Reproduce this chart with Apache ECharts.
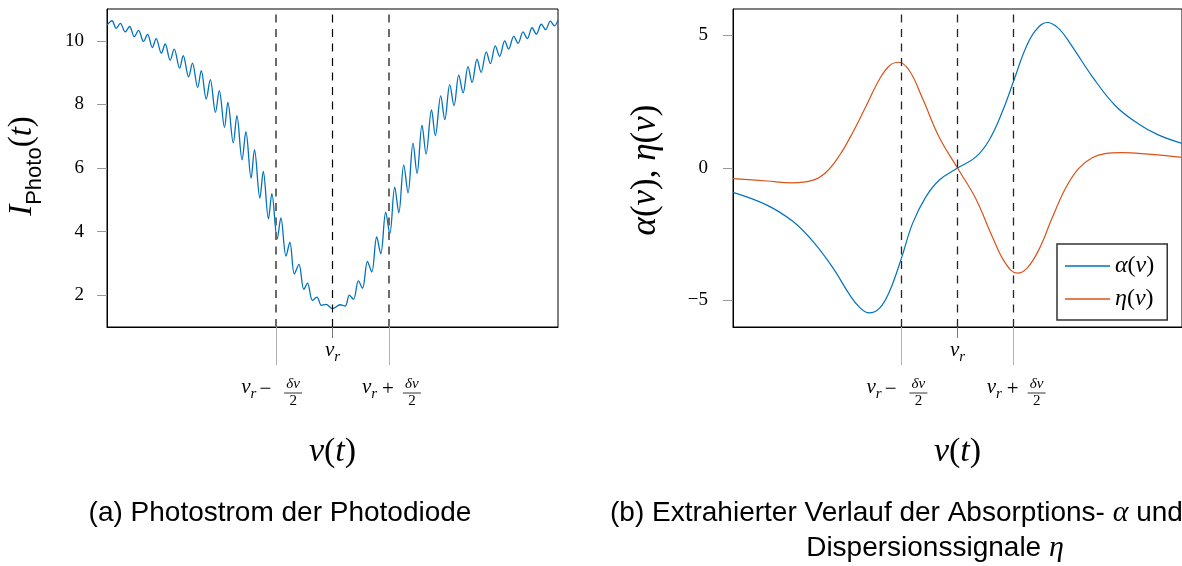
<!DOCTYPE html>
<html><head><meta charset="utf-8">
<script src="https://cdn.jsdelivr.net/npm/echarts@6/dist/echarts.min.js"></script>
<style>html,body{margin:0;padding:0;background:#fff}#c{width:1182px;height:566px}</style>
</head><body><div id="c"></div>
<script>
// ---- data ----
const photoX = [-1.000,-0.978,-0.959,-0.941,-0.919,-0.900,-0.879,-0.860,-0.838,-0.820,-0.799,-0.782,-0.759,-0.742,-0.720,-0.702,-0.678,-0.662,-0.638,-0.621,-0.598,-0.582,-0.560,-0.542,-0.519,-0.502,-0.479,-0.464,-0.440,-0.424,-0.401,-0.384,-0.361,-0.346,-0.322,-0.307,-0.284,-0.269,-0.245,-0.229,-0.206,-0.189,-0.169,-0.149,-0.127,-0.111,-0.089,-0.069,-0.049,-0.029,0.000,0.034,0.056,0.075,0.093,0.115,0.133,0.155,0.174,0.196,0.214,0.236,0.254,0.276,0.294,0.316,0.335,0.357,0.375,0.397,0.415,0.439,0.456,0.480,0.498,0.520,0.539,0.560,0.579,0.601,0.619,0.641,0.659,0.682,0.700,0.722,0.741,0.764,0.781,0.804,0.823,0.845,0.864,0.885,0.904,0.926,0.945,0.966,0.984,1.000];
const photoY = [10.49,10.63,10.39,10.55,10.28,10.45,10.13,10.33,9.98,10.20,9.79,10.07,9.61,9.90,9.39,9.74,9.14,9.53,8.87,9.30,8.53,9.06,8.17,8.78,7.75,8.43,7.28,8.06,6.79,7.65,6.26,7.14,5.68,6.58,5.05,5.89,4.40,5.19,3.77,4.43,3.23,3.67,2.67,2.97,2.18,2.38,1.84,1.94,1.68,1.71,1.58,1.70,1.66,2.00,1.87,2.45,2.22,3.06,2.73,3.83,3.30,4.61,3.93,5.40,4.59,6.10,5.22,6.78,5.83,7.35,6.44,7.83,7.02,8.27,7.52,8.62,7.96,8.92,8.36,9.19,8.69,9.42,9.01,9.65,9.28,9.84,9.51,10.00,9.74,10.14,9.92,10.28,10.07,10.41,10.21,10.52,10.35,10.62,10.47,10.65];

const alphaX = [-1.000,-0.849,-0.731,-0.643,-0.554,-0.480,-0.436,-0.394,-0.347,-0.303,-0.250,-0.200,-0.141,-0.082,0.000,0.081,0.140,0.199,0.252,0.302,0.347,0.398,0.450,0.509,0.598,0.702,0.805,0.894,1.000];
const alphaY = [-0.92,-1.40,-2.03,-2.78,-3.78,-4.79,-5.26,-5.47,-5.29,-4.66,-3.41,-2.09,-1.09,-0.46,0.00,0.41,1.04,2.11,3.33,4.49,5.18,5.49,5.27,4.61,3.48,2.36,1.67,1.25,0.93];

const etaX = [-1.000,-0.849,-0.738,-0.643,-0.584,-0.525,-0.466,-0.406,-0.347,-0.303,-0.263,-0.214,-0.155,-0.082,0.000,0.081,0.155,0.214,0.266,0.310,0.362,0.421,0.480,0.539,0.598,0.657,0.731,0.849,1.000];
const etaY = [-0.40,-0.49,-0.56,-0.46,-0.15,0.48,1.35,2.36,3.36,3.86,3.99,3.67,2.61,1.17,0.00,-1.15,-2.59,-3.60,-3.97,-3.78,-3.09,-1.90,-0.78,-0.02,0.38,0.54,0.58,0.52,0.40];

const markerValues = [-0.25, 0, 0.25];
const sideMarkers = [-0.25, 0.25];
const centerMarkers = [0];
const leftYTicks = [2, 4, 6, 8, 10];
const rightYTicks = [-5, 0, 5];
const seriesNames = ['α(ν)', 'η(ν)'];

// ---- chart ----
const SERIF = 'Liberation Serif';
const SANS = 'Liberation Sans';
const BLUE = '#0072BD', RED = '#D95319';
const pairs = (xs, ys) => xs.map((x, i) => [x, ys[i]]);

const chart = echarts.init(document.getElementById('c'), null, {renderer: 'canvas'});

function xMain(gi) {
  return {
    type: 'value', gridIndex: gi, min: -1, max: 1, position: 'bottom',
    axisLine: {show: true, onZero: false, lineStyle: {color: '#000', width: 1}},
    axisTick: {show: true, customValues: sideMarkers, length: 38, lineStyle: {color: '#b0b0b0', width: 1}},
    axisLabel: {show: false}, splitLine: {show: false}
  };
}
function xCenter(gi) {
  return {
    type: 'value', gridIndex: gi, min: -1, max: 1, position: 'bottom', offset: 0,
    axisLine: {show: false, onZero: false},
    axisTick: {show: true, customValues: centerMarkers, length: 11, lineStyle: {color: '#777', width: 1}},
    axisLabel: {show: false}, splitLine: {show: false}
  };
}
function yAxis(gi, min, max, ticks, margin) {
  return {
    type: 'value', gridIndex: gi, min: min, max: max, position: 'left',
    axisLine: {show: true, onZero: false, lineStyle: {color: '#000', width: 1}},
    axisTick: {show: true, customValues: ticks, length: 10, lineStyle: {color: '#999', width: 1}},
    axisLabel: {show: true, customValues: ticks, margin: margin, fontFamily: SERIF, fontSize: 19, color: '#000',
      formatter: v => String(v).replace('-', '\u2212')},
    splitLine: {show: false}
  };
}
function dashLines(colorOuter, widthOuter, colorCenter, widthCenter) {
  return {
    silent: true, symbol: 'none', animation: false,
    label: {show: false},
    data: markerValues.map(v => ({
      xAxis: v,
      lineStyle: {type: [8, 6.5], color: v === 0 ? colorCenter : colorOuter, width: v === 0 ? widthCenter : widthOuter}
    }))
  };
}

const option = {
  animation: false,
  backgroundColor: '#fff',
  grid: [
    {left: 107, top: 9, width: 451, height: 318, show: true, borderColor: '#000', borderWidth: 1, containLabel: false},
    {left: 733, top: 9, width: 452, height: 318, show: true, borderColor: '#000', borderWidth: 1, containLabel: false}
  ],
  xAxis: [xMain(0), xCenter(0), xMain(1), xCenter(1)],
  yAxis: [yAxis(0, 1, 11, leftYTicks, 23), yAxis(1, -6, 6, rightYTicks, 25)],
  legend: {
    show: true, orient: 'vertical', left: 1057, top: 244,
    data: seriesNames,
    icon: 'rect', itemWidth: 45, itemHeight: 1.6, itemGap: 9,
    padding: [10, 13, 9, 8],
    borderColor: '#333', borderWidth: 1.5, backgroundColor: '#fff',
    textStyle: {fontFamily: SERIF, fontSize: 24, color: '#000', lineHeight: 23,
      rich: {i: {fontFamily: SERIF, fontStyle: 'italic', fontSize: 24, color: '#000', lineHeight: 23},
             n: {fontFamily: SERIF, fontSize: 24, color: '#000', lineHeight: 23}}},
    formatter: name => name.split('').map(ch => /[αην]/.test(ch) ? '{i|' + ch + '}' : '{n|' + ch + '}').join('')
  },
  series: [
    {
      name: 'photo', type: 'line', xAxisIndex: 0, yAxisIndex: 0,
      data: pairs(photoX, photoY), showSymbol: false, smooth: 0.35,
      lineStyle: {color: BLUE, width: 1.3}, itemStyle: {color: BLUE},
      markLine: dashLines('#6b6b6b', 2, '#000', 1.2), z: 3
    },
    {
      name: seriesNames[0], type: 'line', xAxisIndex: 2, yAxisIndex: 1,
      data: pairs(alphaX, alphaY), showSymbol: false, smooth: 0.4,
      lineStyle: {color: BLUE, width: 1.2}, itemStyle: {color: BLUE},
      markLine: dashLines('#262626', 1.3, '#262626', 1.3), z: 3
    },
    {
      name: seriesNames[1], type: 'line', xAxisIndex: 2, yAxisIndex: 1,
      data: pairs(etaX, etaY), showSymbol: false, smooth: 0.4,
      lineStyle: {color: RED, width: 1.2}, itemStyle: {color: RED}, z: 3
    }
  ]
};
chart.setOption(option);

// ---- text annotations (positions derived from the axes) ----
const mathRich = {
  v: {fontFamily: SERIF, fontStyle: 'italic', fontSize: 21, color: '#000', verticalAlign: 'bottom', padding: [0, 0, 4, 0]},
  s: {fontFamily: SERIF, fontStyle: 'italic', fontSize: 15, color: '#000', verticalAlign: 'bottom'}
};
function txt(x, y, text, font, align, extra) {
  return Object.assign({type: 'text', x: x, y: y, silent: true,
    style: Object.assign({text: text, font: font, fill: '#000', align: align || 'center', verticalAlign: 'middle'}, extra || {})});
}
function markerLabels(axisIdx) {
  const px = v => chart.convertToPixel({xAxisIndex: axisIdx}, v);
  const els = [];
  const c = px(markerValues[1]);
  els.push(txt(c, 352, '{v|ν}{s|r}', '', 'center', {rich: mathRich}));
  const specs = [
    {v: markerValues[0], op: '\u2212', nuOff: -35, opOff: -10.7, frOff: 17},
    {v: markerValues[2], op: '+', nuOff: -27, opOff: -1, frOff: 23}
  ];
  specs.forEach(sp => {
    const t = px(sp.v);
    els.push(txt(t + sp.nuOff, 389, '{v|ν}{s|r}', '', 'left', {rich: mathRich}));
    els.push(txt(t + sp.opOff, 389, sp.op, '21px ' + SERIF, 'center'));
    const fc = t + sp.frOff;
    els.push(txt(fc, 384, 'δν', 'italic 15px ' + SERIF, 'center'));
    els.push({type: 'line', silent: true, shape: {x1: fc - 9, y1: 393, x2: fc + 9, y2: 393}, style: {stroke: '#000', lineWidth: 0.8}});
    els.push(txt(fc, 401, '2', '15px ' + SERIF, 'center'));
  });
  els.push(txt(c, 452, '{i|ν}{n|(}{i|t}{n|)}', '', 'center', {rich: {
    i: {fontFamily: SERIF, fontStyle: 'italic', fontSize: 34, color: '#000'},
    n: {fontFamily: SERIF, fontSize: 34, color: '#000'}}}));
  return els;
}

const graphics = [].concat(markerLabels(0), markerLabels(2));

// y-axis titles
graphics.push({
  type: 'text', x: 26, y: 166, rotation: Math.PI / 2, silent: true,
  style: {
    text: '{i|I}{sub|Photo}{n|(}{i|t}{n|)}', align: 'center', verticalAlign: 'middle',
    rich: {
      i: {fontFamily: SERIF, fontStyle: 'italic', fontSize: 33, color: '#000', verticalAlign: 'bottom', padding: [0, 0, 7, 0]},
      n: {fontFamily: SERIF, fontSize: 33, color: '#000', verticalAlign: 'bottom', padding: [0, 0, 7, 0]},
      sub: {fontFamily: SANS, fontSize: 22, color: '#000', verticalAlign: 'bottom'}
    }
  }
});
graphics.push({
  type: 'text', x: 646, y: 170, rotation: Math.PI / 2, silent: true,
  style: {
    text: '{i|α}{n|(}{i|ν}{n|), }{i|η}{n|(}{i|ν}{n|)}', align: 'center', verticalAlign: 'middle',
    rich: {
      i: {fontFamily: SERIF, fontStyle: 'italic', fontSize: 35, color: '#000'},
      n: {fontFamily: SERIF, fontSize: 35, color: '#000'}
    }
  }
});

// captions
const capRich = {
  t: {fontFamily: SANS, fontSize: 28, color: '#1a1a1a'},
  m: {fontFamily: SERIF, fontStyle: 'italic', fontSize: 30, color: '#1a1a1a'}
};
graphics.push(txt(280, 513, '{t|(a) Photostrom der Photodiode}', '', 'center', {rich: capRich}));
graphics.push(txt(610, 513, '{t|(b) Extrahierter Verlauf der Absorptions- }{m|α}{t| und}', '', 'left', {rich: capRich}));
graphics.push(txt(935, 548, '{t|Dispersionssignale }{m|η}', '', 'center', {rich: capRich}));

chart.setOption({graphic: graphics});
</script>
</body></html>
